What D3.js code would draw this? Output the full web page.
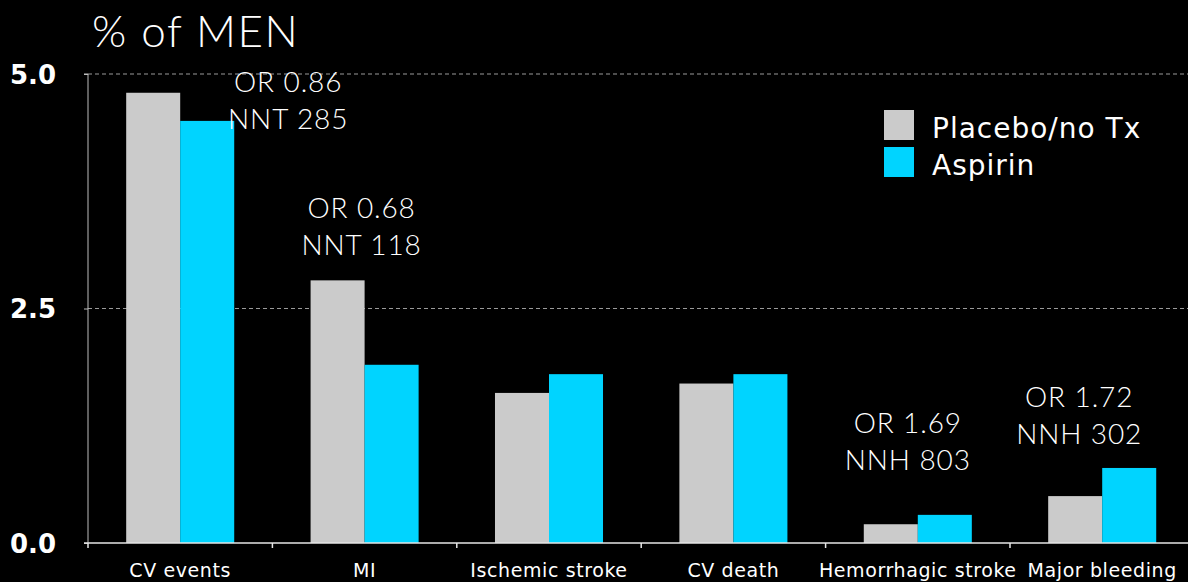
<!DOCTYPE html>
<html>
<head>
<meta charset="utf-8">
<script src="https://cdn.jsdelivr.net/npm/d3@7"></script>
<style>
  html, body { margin: 0; padding: 0; background: #000; }
  svg { display: block; }
</style>
</head>
<body>
<svg id="chart" width="1188" height="582"></svg>
<script>
// Outcome categories and event rates (% of men)
const categories = ["CV events", "MI", "Ischemic stroke", "CV death", "Hemorrhagic stroke", "Major bleeding"];
const seriesNames = ["Placebo/no Tx", "Aspirin"];
const placebo = [4.8, 2.8, 1.6, 1.7, 0.2, 0.5];
const aspirin = [4.5, 1.9, 1.8, 1.8, 0.3, 0.8];
const yTicks = [0, 2.5, 5.0];
// Odds ratio / NNT-NNH notes per category (null = no note)
const notes = [
  ["OR 0.86", "NNT 285"],
  ["OR 0.68", "NNT 118"],
  null,
  null,
  ["OR 1.69", "NNH 803"],
  ["OR 1.72", "NNH 302"]
];

const colors = ["#cbcbcb", "#00d4ff"];
const labelFont = "'DejaVu Sans', Verdana, sans-serif";
const noteFont = "Lato, 'Open Sans', sans-serif";

const svg = d3.select("#chart");
const margin = { left: 88, top: 74, bottom: 39 };
const H = 582;
const plotBottom = H - margin.bottom;

const x = d3.scaleBand()
  .domain(categories)
  .range([margin.left, margin.left + 6 * 184.4])
  .paddingInner(0).paddingOuter(0);

const y = d3.scaleLinear().domain([0, 5]).range([plotBottom, margin.top]);

const inner = d3.scaleBand().domain(seriesNames)
  .range([0, x.bandwidth()]).paddingInner(0).paddingOuter(0.707);

// dashed gridlines
svg.append("g").selectAll("line")
  .data(yTicks.filter(d => d > 0))
  .join("line")
  .attr("x1", margin.left).attr("x2", 1188)
  .attr("y1", d => y(d)).attr("y2", d => y(d))
  .attr("stroke", "#9a9a9a").attr("stroke-width", 1)
  .attr("stroke-dasharray", "4,3");

// bars
const rows = categories.map((c, i) => ({ c, vals: [placebo[i], aspirin[i]] }));
svg.append("g").selectAll("g")
  .data(rows).join("g")
  .attr("transform", d => `translate(${x(d.c)},0)`)
  .selectAll("rect")
  .data(d => d.vals.map((v, j) => ({ s: seriesNames[j], v, j })))
  .join("rect")
  .attr("x", d => inner(d.s))
  .attr("width", inner.bandwidth())
  .attr("y", d => y(d.v))
  .attr("height", d => y(0) - y(d.v))
  .attr("fill", d => colors[d.j]);

// y axis
const yAxis = svg.append("g")
  .attr("transform", `translate(${margin.left},0)`)
  .call(d3.axisLeft(y).tickValues(yTicks).tickFormat(d3.format(".1f")).tickSize(4).tickPadding(28));
yAxis.select(".domain").attr("stroke", "#bdbdbd").attr("d", `M-4,${y(5)}H0V${y(0)}`);
yAxis.selectAll(".tick line").attr("stroke", "#bdbdbd");
yAxis.selectAll(".tick text")
  .attr("fill", "#fff").attr("font-family", labelFont)
  .attr("font-weight", "bold").attr("font-size", 26)
  .attr("dy", "0.35em");

// x axis with ticks on category boundaries
const xAxisG = svg.append("g").attr("transform", `translate(0,${plotBottom})`);
xAxisG.append("line").attr("x1", margin.left - 4).attr("x2", 1188)
  .attr("stroke", "#e6e6e6").attr("stroke-width", 1.5);
xAxisG.selectAll("line.tk")
  .data(categories).join("line").attr("class", "tk")
  .attr("x1", d => x(d)).attr("x2", d => x(d))
  .attr("y1", 0).attr("y2", 5)
  .attr("stroke", "#e6e6e6").attr("stroke-width", 1.5);
xAxisG.selectAll("text")
  .data(categories).join("text")
  .attr("x", d => x(d) + x.bandwidth() / 2)
  .attr("y", 34)
  .attr("text-anchor", "middle")
  .attr("fill", "#fff").attr("font-family", labelFont)
  .attr("font-size", 19).attr("letter-spacing", 0.6)
  .text(d => d);

// title
svg.append("text")
  .attr("x", 92).attr("y", 47)
  .attr("fill", "#fff").attr("font-family", noteFont)
  .attr("font-size", 44).attr("font-weight", 300).attr("letter-spacing", 1.5)
  .text("% of MEN");

// OR / NNT notes above bars
const noteDx = [108, -3, 0, 0, -10, -23];
const noteGap = [-36, 25, 0, 0, 45, 24];
notes.forEach((n, i) => {
  if (!n) return;
  const cx = x(categories[i]) + x.bandwidth() / 2 + noteDx[i];
  const top = y(Math.max(placebo[i], aspirin[i]));
  const base = top - noteGap[i] - 37;
  const t = svg.append("text")
    .attr("text-anchor", "middle")
    .attr("fill", "#fff").attr("font-family", noteFont)
    .attr("font-size", 28).attr("font-weight", 300).attr("letter-spacing", 0.9);
  n.forEach((line, k) => {
    t.append("tspan").attr("x", cx).attr("y", base + k * 37).text(line);
  });
});

// legend
const legend = svg.append("g").attr("transform", "translate(884,110)");
seriesNames.forEach((s, i) => {
  legend.append("rect").attr("x", 0).attr("y", i * 37)
    .attr("width", 30).attr("height", 30).attr("fill", colors[i]);
  legend.append("text").attr("x", 48).attr("y", i * 37 + 28)
    .attr("fill", "#fff").attr("font-family", labelFont)
    .attr("font-size", 28).attr("letter-spacing", 1)
    .text(s);
});
</script>
</body>
</html>
